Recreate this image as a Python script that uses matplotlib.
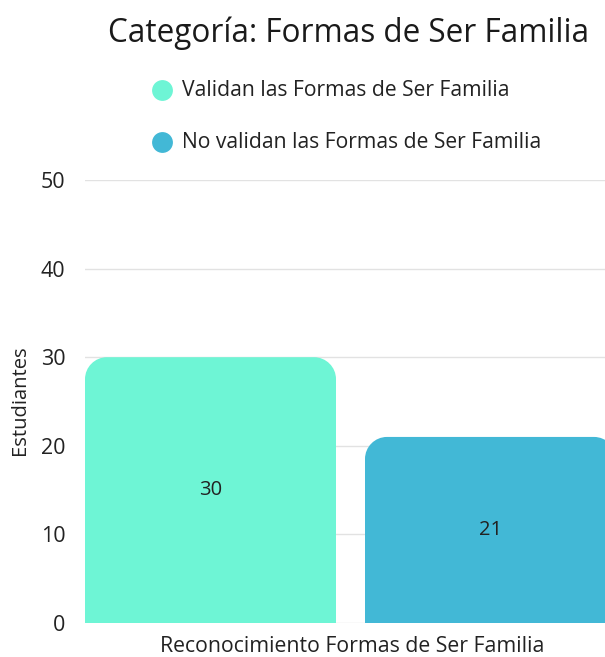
import matplotlib
matplotlib.use("Agg")
import matplotlib.pyplot as plt
from matplotlib.path import Path
from matplotlib.patches import PathPatch
from matplotlib.lines import Line2D

plt.rcParams['font.family'] = ['Open Sans', 'DejaVu Sans']

title = "Categoría: Formas de Ser Familia"
series = ["Validan las Formas de Ser Familia", "No validan las Formas de Ser Familia"]
values = [30, 21]
colors = ["#6EF5D5", "#42B8D6"]
x_label = "Reconocimiento Formas de Ser Familia"
y_label = "Estudiantes"
y_ticks = [0, 10, 20, 30, 40, 50]

W, H = 605, 657
fig = plt.figure(figsize=(W / 100, H / 100), dpi=100)
ax_left, ax_right = 85 / W, 1.0
ax_bottom, ax_top = 1 - 623 / H, 1 - 180 / H
ax = fig.add_axes([ax_left, ax_bottom, ax_right - ax_left, ax_top - ax_bottom])

bar_w = 251 / 280
x_min = -bar_w / 2
x_max = x_min + (W - 85) / 280
ax.set_xlim(x_min, x_max)
ax.set_ylim(0, 50)

# pixel scale for rounding the top corners
px_x = (x_max - x_min) / (W * (ax_right - ax_left))
px_y = 50 / (623 - 180)
r_px = 22


def rounded_bar(xc, h, color):
    x0, x1 = xc - bar_w / 2, xc + bar_w / 2
    rx, ry = r_px * px_x, r_px * px_y
    k = 0.5523
    verts = [
        (x0, 0), (x0, h - ry),
        (x0, h - ry + k * ry), (x0 + rx - k * rx, h), (x0 + rx, h),
        (x1 - rx, h),
        (x1 - rx + k * rx, h), (x1, h - ry + k * ry), (x1, h - ry),
        (x1, 0), (x0, 0),
    ]
    codes = [Path.MOVETO, Path.LINETO,
             Path.CURVE4, Path.CURVE4, Path.CURVE4,
             Path.LINETO,
             Path.CURVE4, Path.CURVE4, Path.CURVE4,
             Path.LINETO, Path.CLOSEPOLY]
    ax.add_patch(PathPatch(Path(verts, codes), facecolor=color,
                           edgecolor="none", zorder=2, clip_on=True))


for i, (v, c) in enumerate(zip(values, colors)):
    rounded_bar(i, v, c)
    ax.text(i, v / 2, str(v), ha="center", va="center",
            fontsize=14.5, color="#222222", zorder=3)

ax.set_yticks(y_ticks)
ax.set_yticklabels([str(t) for t in y_ticks], fontsize=15.5, color="#222222")
ax.tick_params(axis="y", length=0, pad=14)
ax.set_xticks([])
ax.grid(axis="y", color="#e2e2e2", linewidth=1, zorder=0)
for s in ax.spines.values():
    s.set_visible(False)

fig.text(20 / W, 1 - 400 / H, y_label, rotation=90, ha="center", va="center",
         fontsize=14.5, color="#222222")
fig.text(352 / W, 1 - 646 / H, x_label, ha="center", va="center",
         fontsize=15.3, color="#222222")
fig.text(349 / W, 1 - 33 / H, title, ha="center", va="center",
         fontsize=22.7, color="#1a1a1a")

# legend entries: colored dot + label
legend_rows = [90, 142]
for name, c, yr in zip(series, colors, legend_rows):
    yf = 1 - yr / H
    fig.add_artist(Line2D([162 / W], [yf], marker="o", linestyle="none",
                          markersize=15, markerfacecolor=c,
                          markeredgecolor="none", transform=fig.transFigure))
    fig.text(182 / W, yf, name, ha="left", va="center",
             fontsize=15.2, color="#222222")

fig.savefig("out.png", dpi=100)
